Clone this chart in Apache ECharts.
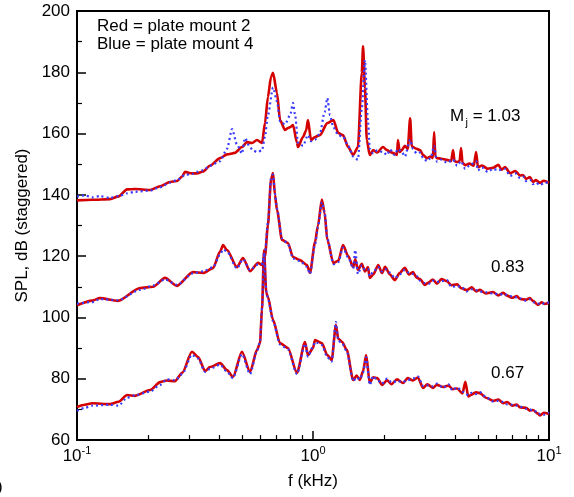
<!DOCTYPE html>
<html>
<head>
<meta charset="utf-8">
<script src="https://cdn.jsdelivr.net/npm/echarts@6/dist/echarts.min.js"></script>
<style>
html,body{margin:0;padding:0;background:#fff;}
#c{width:574px;height:497px;}
</style>
</head>
<body>
<div id="c"></div>
<script>
// ---- DATA ----
// Mj = 1.03 (top curve)
const f103Red = [0.100,0.116,0.138,0.150,0.163,0.176,0.204,0.225,0.248,0.265,0.279,0.287,0.307,0.322,0.342,0.366,0.404,0.432,0.467,0.500,0.525,0.552,0.579,0.608,0.626,0.644,0.664,0.677,0.704,0.725,0.761,0.783,0.800,0.823,0.855,0.864,0.907,0.935,0.952,0.981,1.02,1.07,1.15,1.22,1.28,1.34,1.41,1.48,1.55,1.61,1.63,1.66,1.69,1.74,1.80,1.87,1.98,2.06,2.12,2.22,2.27,2.29,2.33,2.38,2.45,2.52,2.58,2.62,2.65,2.75,2.84,2.93,3.04,3.15,3.22,3.26,3.30,3.35,3.50,3.70,3.85,3.92,3.98,4.08,4.18,4.24,4.30,4.41,4.6,4.8,4.91,5.00,5.2,5.5,5.79,6.1,6.3,6.51,6.84,7.2,7.54,7.76,8.0,8.3,8.55,8.8,9.16,9.5,10.0];
const db103Red = [138.2,138.4,138.6,139.5,141.8,141.9,141.6,142.8,144.2,144.5,146.0,147.5,147.0,147.0,147.6,149.5,152.0,153.2,153.7,155.6,157.2,156.9,157.9,156.9,163.4,171.9,178.5,179.8,173.2,164.4,161.2,161.8,162.1,162.8,157.0,155.6,158.9,161.0,164.4,157.9,158.9,159.5,163.4,164.4,160.2,159.5,155.6,153.0,155.6,179.8,188.5,175.0,157.9,153.0,154.6,153.8,155.6,154.6,154.0,153.5,153.0,157.9,154.0,154.6,156.0,155.0,165.0,156.0,155.6,155.0,154.6,153.0,152.0,152.5,152.0,160.5,152.5,152.0,151.8,151.4,151.0,154.6,151.0,150.7,151.0,155.3,150.5,149.7,150.2,149.5,154.0,149.0,149.6,148.5,148.8,149.8,148.2,149.1,147.1,147.8,146.3,146.5,145.2,145.8,144.2,144.8,143.9,144.6,143.9];
const f103Blue = [0.100,0.108,0.116,0.125,0.138,0.150,0.163,0.176,0.204,0.225,0.248,0.265,0.287,0.307,0.322,0.342,0.366,0.404,0.432,0.454,0.476,0.500,0.515,0.541,0.557,0.579,0.608,0.626,0.644,0.677,0.704,0.725,0.761,0.800,0.823,0.840,0.864,0.907,0.952,0.981,1.02,1.07,1.12,1.15,1.18,1.22,1.28,1.34,1.41,1.48,1.55,1.61,1.66,1.71,1.74,1.80,1.87,1.98,2.06,2.12,2.22,2.29,2.38,2.45,2.58,2.65,2.75,2.84,2.93,3.04,3.15,3.26,3.35,3.50,3.70,3.92,4.08,4.24,4.41,4.6,4.91,5.00,5.2,5.5,5.79,6.1,6.51,6.84,7.2,7.54,7.76,8.0,8.3,8.55,8.8,9.16,9.5,10.0];
const db103Blue = [139.5,139.8,139.2,139.6,139.0,139.6,140.5,141.0,141.4,142.5,144.0,144.8,146.5,146.8,147.5,148.0,149.5,151.0,155.0,161.5,156.5,153.5,158.5,155.5,154.5,154.0,154.5,159.0,166.0,175.0,170.5,164.0,163.0,166.0,170.0,166.0,157.0,156.0,159.5,157.5,158.0,160.0,167.0,171.6,166.0,162.0,159.5,159.0,156.0,152.5,151.5,168.0,184.0,164.0,155.0,153.5,154.5,154.0,153.0,154.8,153.0,155.0,154.0,152.5,158.0,155.0,153.5,153.8,152.0,151.0,152.0,156.0,150.8,151.5,150.5,151.5,149.5,151.0,148.5,149.5,151.0,148.0,149.0,147.5,148.5,148.0,148.5,146.2,147.0,145.5,146.0,144.5,145.0,143.5,144.0,143.2,143.8,144.3];

// Mj = 0.83 (middle curve)
const f083 = [0.100,0.116,0.125,0.149,0.185,0.210,0.236,0.265,0.310,0.342,0.377,0.404,0.416,0.432,0.476,0.505,0.541,0.585,0.608,0.626,0.644,0.664,0.677,0.690,0.704,0.739,0.783,0.823,0.881,0.943,0.971,1.02,1.05,1.09,1.12,1.15,1.22,1.28,1.34,1.41,1.48,1.51,1.55,1.61,1.66,1.71,1.74,1.80,1.89,1.96,2.02,2.12,2.22,2.33,2.45,2.55,2.65,2.75,2.84,2.98,3.10,3.22,3.35,3.50,3.70,3.85,4.08,4.25,4.49,4.7,4.91,5.10,5.4,5.79,6.1,6.4,6.64,7.0,7.3,7.54,8.0,8.3,8.55,8.98,9.3,9.6,10.0];
const db083Red = [104.0,105.5,106.3,105.4,109.6,110.0,112.9,110.3,114.8,114.5,116.1,121.5,123.6,122.0,116.4,119.4,115.1,117.8,117.1,120.0,130.0,145.0,147.1,140.0,135.0,125.3,124.3,119.7,118.7,117.1,114.5,124.6,130.0,138.5,134.0,125.3,117.8,118.5,123.6,120.0,116.4,119.0,115.5,117.5,115.0,116.4,112.9,114.0,117.1,114.5,116.5,114.0,112.2,114.5,116.2,114.0,114.8,113.0,112.5,110.6,111.5,112.4,111.0,112.5,111.8,110.5,110.8,109.5,108.9,109.8,108.5,109.0,107.8,108.3,107.2,108.0,107.1,106.4,107.0,106.0,105.8,106.3,105.4,104.1,104.9,104.4,104.8];
const db083Blue = [104.5,105.0,106.0,105.6,109.0,110.4,112.4,110.6,114.4,115.0,116.4,120.5,122.2,121.5,116.0,119.0,115.5,117.3,117.5,121.0,131.0,145.5,146.6,140.5,135.5,125.8,124.0,119.2,118.4,116.5,114.2,123.8,129.5,137.6,134.5,125.8,117.4,118.0,122.8,119.6,116.0,122.0,114.2,117.0,115.6,115.8,113.5,114.8,116.5,115.0,115.8,114.6,112.8,114.0,115.5,114.6,114.2,113.5,112.0,111.2,111.0,112.0,111.6,111.8,112.2,110.0,110.2,110.0,108.5,109.2,108.9,108.4,108.2,107.8,107.6,107.5,107.4,106.8,106.5,106.2,105.4,105.9,105.0,104.5,104.3,104.7,104.9];

// Mj = 0.67 (bottom curve)
const f067 = [0.100,0.108,0.116,0.138,0.150,0.163,0.176,0.204,0.225,0.240,0.260,0.279,0.307,0.326,0.349,0.366,0.404,0.432,0.458,0.500,0.541,0.579,0.596,0.608,0.620,0.634,0.644,0.677,0.725,0.783,0.855,0.925,0.952,1.00,1.02,1.09,1.15,1.20,1.25,1.28,1.33,1.39,1.48,1.53,1.58,1.63,1.68,1.74,1.80,1.87,1.96,2.06,2.15,2.27,2.41,2.52,2.65,2.78,2.93,3.05,3.22,3.35,3.56,3.75,3.90,4.08,4.30,4.42,4.55,4.7,4.91,5.10,5.4,5.79,6.1,6.4,6.64,7.0,7.3,7.54,8.0,8.3,8.55,8.98,9.16,9.5,10.0];
const db067Red = [70.8,71.5,72.0,71.7,72.5,74.7,74.4,76.3,78.9,79.4,79.2,81.9,88.8,87.1,82.5,83.8,85.1,82.8,80.6,88.8,82.2,89.4,91.6,102.4,122.0,108.0,106.7,99.2,91.6,90.0,81.9,92.0,87.7,90.0,92.6,91.6,87.7,86.1,97.5,93.0,92.0,89.4,79.6,81.0,79.6,82.5,87.7,78.6,80.5,80.2,78.0,79.5,78.2,79.8,78.6,80.2,79.4,80.4,77.0,78.2,77.0,78.0,77.3,77.8,76.6,76.8,75.2,79.0,74.2,74.8,75.6,75.3,73.8,72.8,73.2,72.0,72.4,71.2,71.6,70.6,70.5,69.6,69.8,68.6,68.0,68.9,68.5];
const db067Blue = [69.5,70.5,71.2,71.5,71.2,73.8,74.6,75.8,78.0,79.8,79.5,81.5,87.8,86.6,82.2,83.2,84.6,82.3,80.2,88.0,81.5,89.0,91.8,103.0,121.0,108.6,106.2,98.8,91.2,89.6,81.5,91.4,87.2,90.5,92.0,91.0,87.0,85.6,98.5,92.4,91.5,89.0,79.2,80.4,79.8,82.0,87.0,78.0,80.8,79.6,78.4,80.0,78.8,79.2,79.0,79.6,80.0,80.8,77.6,77.8,77.5,78.4,77.0,78.2,76.2,77.2,75.8,75.2,74.6,75.4,75.0,75.6,74.0,72.6,72.8,72.4,71.6,71.5,71.2,70.9,70.2,70.0,69.4,69.2,68.4,68.2,69.0];

// axis ticks
const xMajorTicks = [0.1, 1, 10];
const xMinorTicks = [0.2,0.3,0.4,0.5,0.6,0.7,0.8,0.9,2,3,4,5,6,7,8,9];
const yMin = 60, yMax = 200, yStep = 20;

// text
const legendLines = ['Red = plate mount 2', 'Blue = plate mount 4'];
const machLabels = ['1.03', '0.83', '0.67'];

// ---- CHART ----
const FONT = '"Liberation Sans", Arial, Helvetica, sans-serif';
const RED = '#d40000';
const BLUE = '#3a3aff';
function zip(f, d) { return f.map((v, i) => [v, d[i]]); }

const chart = echarts.init(document.getElementById('c'), null, {renderer: 'canvas'});

function redSeries(f, d) {
  return {type: 'line', xAxisIndex: 0, yAxisIndex: 0, data: zip(f, d), showSymbol: false,
    smooth: 0.25, smoothMonotone: 'x', lineStyle: {color: RED, width: 2.6}, z: 3, silent: true};
}
function blueSeries(f, d) {
  return {type: 'line', xAxisIndex: 0, yAxisIndex: 0, data: zip(f, d), showSymbol: false,
    smooth: 0.25, smoothMonotone: 'x', lineStyle: {color: BLUE, width: 2.2, type: [2, 3], cap: 'butt'}, z: 4, silent: true};
}

const option = {
  animation: false,
  backgroundColor: '#fff',
  textStyle: {fontFamily: FONT},
  grid: {left: 77, top: 11, width: 472, height: 429, show: true, borderColor: '#000', borderWidth: 2, backgroundColor: 'transparent'},
  xAxis: [
    {
      type: 'log', logBase: 10, min: 0.1, max: 10, position: 'bottom',
      axisLine: {show: true, onZero: false, lineStyle: {color: '#000', width: 2}},
      axisTick: {show: true, inside: true, length: 9, customValues: xMajorTicks, lineStyle: {color: '#000', width: 1.5}},
      axisLabel: {
        customValues: xMajorTicks, margin: 5, color: '#000',
        formatter: function (v) { return '{b|10}{s|' + Math.round(Math.log10(v)) + '}'; },
        rich: {b: {fontSize: 17, fontFamily: FONT, color: '#000', lineHeight: 20, verticalAlign: 'bottom'},
               s: {fontSize: 11, fontFamily: FONT, color: '#000', lineHeight: 20, verticalAlign: 'top'}}
      },
      splitLine: {show: false},
      name: 'f (kHz)', nameLocation: 'middle', nameGap: 33,
      nameTextStyle: {fontSize: 17, color: '#000', fontFamily: FONT}
    },
    {
      type: 'log', logBase: 10, min: 0.1, max: 10, position: 'bottom',
      axisLine: {show: false},
      axisTick: {show: true, inside: true, length: 5, customValues: xMinorTicks, lineStyle: {color: '#000', width: 1.2}},
      axisLabel: {show: false}, splitLine: {show: false}
    }
  ],
  yAxis: [{
    type: 'value', min: yMin, max: yMax, interval: yStep,
    axisLine: {show: true, onZero: false, lineStyle: {color: '#000', width: 2}},
    axisTick: {show: true, inside: true, length: 9, lineStyle: {color: '#000', width: 1.5}},
    minorTick: {show: true, splitNumber: 2, length: 5, lineStyle: {color: '#000', width: 1.2}},
    axisLabel: {fontSize: 17, color: '#000', margin: 7, fontFamily: FONT},
    splitLine: {show: false},
    name: 'SPL, dB (staggered)', nameLocation: 'middle', nameGap: 46,
    nameTextStyle: {fontSize: 17, color: '#000', fontFamily: FONT}
  }],
  series: [
    redSeries(f103Red, db103Red),
    redSeries(f083, db083Red),
    redSeries(f067, db067Red),
    blueSeries(f103Blue, db103Blue),
    blueSeries(f083, db083Blue),
    blueSeries(f067, db067Blue)
  ],
  graphic: [
    {type: 'text', left: 97, top: 18, style: {text: legendLines[0], font: '17px ' + FONT, fill: '#000'}},
    {type: 'text', left: 97, top: 36, style: {text: legendLines[1], font: '17px ' + FONT, fill: '#000'}},
    {type: 'text', left: 450, top: 108, style: {text: 'M', font: '17px ' + FONT, fill: '#000'}},
    {type: 'text', left: 465.5, top: 117, style: {text: 'j', font: '11px ' + FONT, fill: '#000'}},
    {type: 'text', left: 468, top: 108, style: {text: ' = ' + machLabels[0], font: '17px ' + FONT, fill: '#000'}},
    {type: 'text', left: 491, top: 259, style: {text: machLabels[1], font: '17px ' + FONT, fill: '#000'}},
    {type: 'text', left: 491, top: 365, style: {text: machLabels[2], font: '17px ' + FONT, fill: '#000'}},
    {type: 'text', left: -3, top: 479, style: {text: ')', font: '17px ' + FONT, fill: '#000'}}
  ]
};
chart.setOption(option);
</script>
</body>
</html>
